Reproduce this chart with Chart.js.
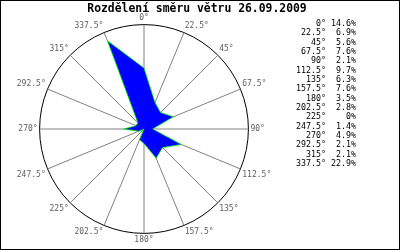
<!DOCTYPE html>
<html>
<head>
<meta charset="utf-8">
<script src="https://cdn.jsdelivr.net/npm/chart.js@4"></script>
<style>
  html, body { margin: 0; padding: 0; background: #fff; }
  #wrap { width: 400px; height: 250px; }
</style>
</head>
<body>
<div id="wrap"><canvas id="myChart" width="400" height="250"></canvas></div>
<script>
  var title = 'Rozdělení směru větru 26.09.2009';
  var directions = ['0°', '22.5°', '45°', '67.5°', '90°', '112.5°', '135°', '157.5°',
                    '180°', '202.5°', '225°', '247.5°', '270°', '292.5°', '315°', '337.5°'];
  var percents = [14.6, 6.9, 5.6, 7.6, 2.1, 9.7, 6.3, 7.6, 3.5, 2.8, 0, 1.4, 4.9, 2.1, 2.1, 22.9];
  var scaleMax = 25;

  // title, legend table and frame are drawn on top of the radar
  var extras = {
      id: 'extras',
      afterDraw: function (chart)
      {
          var ctx = chart.ctx;
          ctx.save();
          ctx.fillStyle = '#000';
          ctx.font = 'bold 11.4px "DejaVu Sans Mono"';
          ctx.textAlign = 'center';
          ctx.textBaseline = 'middle';
          ctx.fillText(title, 197, 9);

          ctx.font = '8.3px "DejaVu Sans Mono"';
          ctx.textAlign = 'right';
          for (var i = 0; i < directions.length; i++) {
              var y = 24 + i * 9.33;
              ctx.fillText(directions[i], 326, y);
              ctx.fillText(percents[i] + '%', 356, y);
          }

          ctx.strokeStyle = '#000';
          ctx.lineWidth = 1;
          ctx.strokeRect(0.5, 0.5, 399, 249);
          ctx.restore();
      }
  };

  var chartdata = {
      labels: directions,
      datasets: [
          {
              data: percents,
              backgroundColor: '#0000ff',
              borderColor: '#00ff00',
              borderWidth: 0.8,
              pointRadius: 0,
              fill: true
          }
      ]
  };

  var graphTarget = document.getElementById('myChart');
  var radar = new Chart(graphTarget, {
      type: 'radar',
      data: chartdata,
      plugins: [extras],
      options: {
          responsive: false,
          animation: false,
          layout: { padding: { left: 0, right: 112, top: 14, bottom: 4 } },
          plugins: {
              legend: { display: false },
              title: { display: false },
              tooltip: { enabled: false }
          },
          scales: {
              r: {
                  min: 0,
                  max: scaleMax,
                  ticks: { display: false, stepSize: scaleMax },
                  grid: { circular: true, color: '#000', lineWidth: 1 },
                  angleLines: { color: '#808080', lineWidth: 1 },
                  pointLabels: {
                      padding: 2,
                      color: '#606060',
                      font: { family: 'DejaVu Sans Mono', size: 8 }
                  }
              }
          }
      }
  });
</script>
</body>
</html>
